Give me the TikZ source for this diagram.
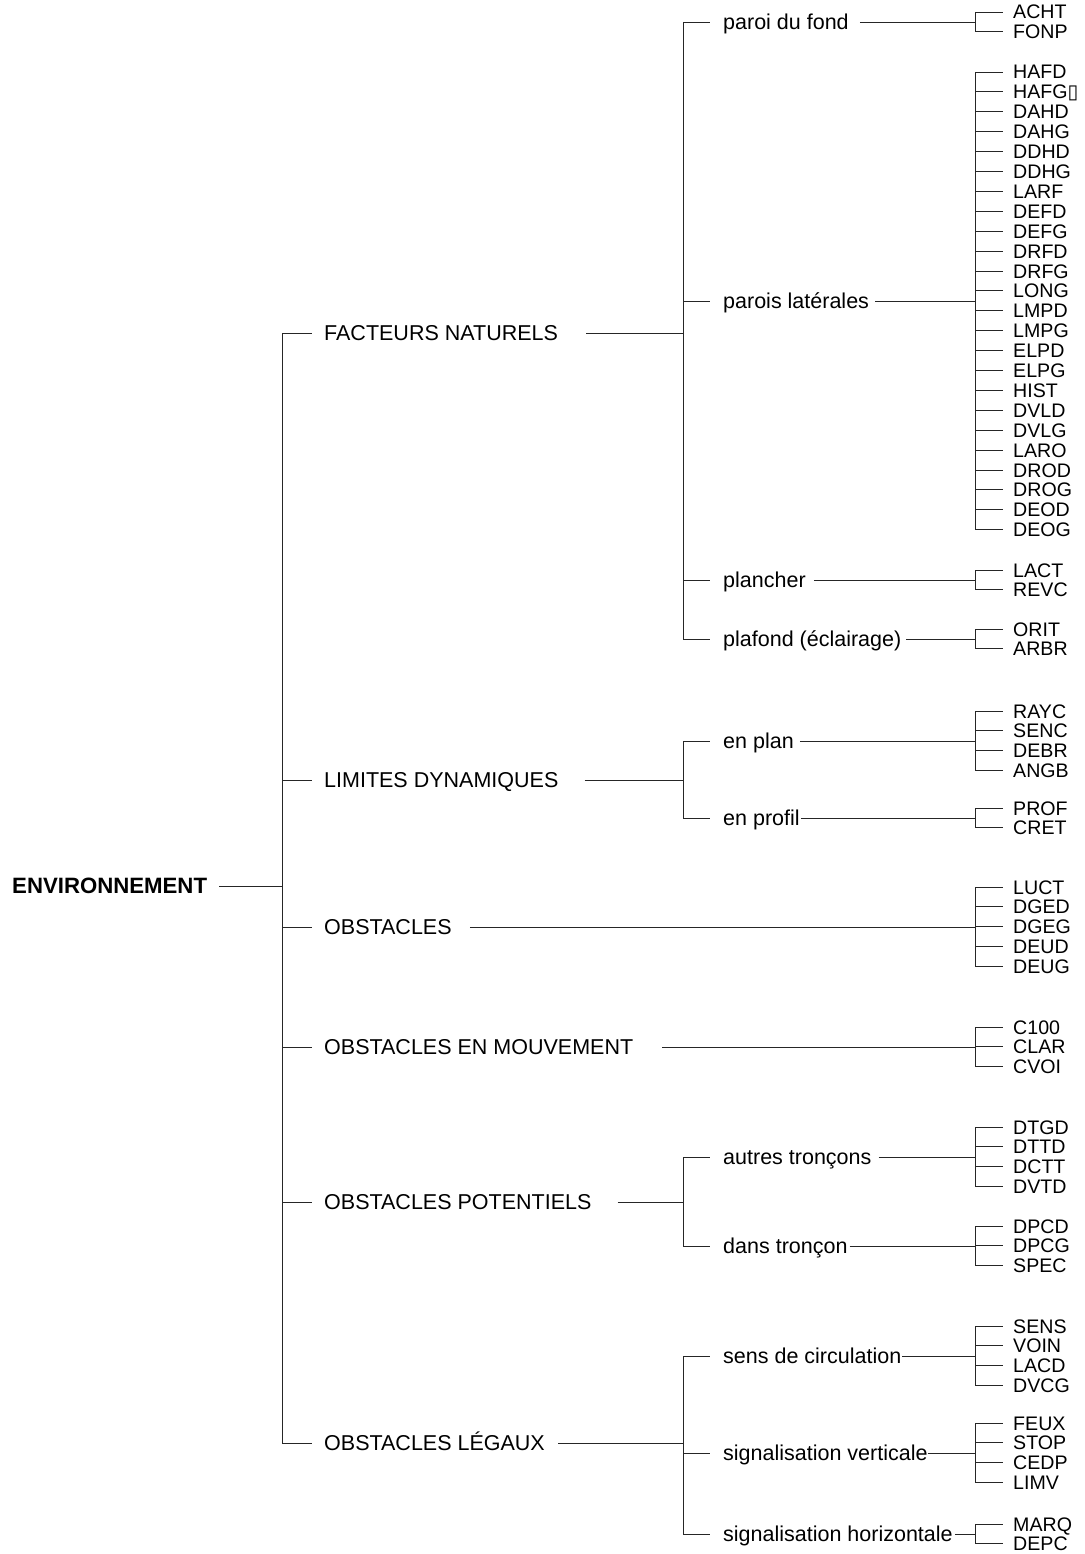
\documentclass[tikz,border=0pt]{standalone}
\usepackage{fontspec}
\setmainfont{Liberation Sans}
\newfontfamily\dejavu{DejaVu Sans}
\newcommand\leafset[4]{% #1 prefix, #2 first y, #3 last index, #4 list
  \foreach \t [count=\i from 0] in {#4} {
    \node[leaf] (#1\i) at (1013,{#2+19.9*\i}) {\t};
    \draw[conn] (br3 |- #1\i.west) -- ([xshift=-10pt]#1\i.west);
  }
  \draw[conn] (br3 |- #10.west) -- (br3 |- #1#3.west);
}
\begin{document}
\begin{tikzpicture}[x=1pt,y=-1pt,
  conn/.style={draw=black!85, line width=0.9pt},
  lvl/.style={font=\fontsize{21.5}{24}\selectfont, anchor=west, inner sep=0pt, text height=15.4pt, text depth=0pt},
  root/.style={font=\bfseries\fontsize{22.2}{24}\selectfont, anchor=west, inner sep=0pt, text height=15.9pt, text depth=0pt},
  leaf/.style={font=\fontsize{19.6}{20}\selectfont, anchor=west, inner sep=0pt, text height=14pt, text depth=0pt}]
\useasboundingbox (0,0) rectangle (1084,1554);
\coordinate (trunk) at (282,0);
\coordinate (br2) at (683,0);
\coordinate (br3) at (975,0);

% root
\node[root] (env) at (12,886) {ENVIRONNEMENT};
\draw[conn] ([xshift=12pt]env.east) -- (trunk |- env.east);

% level 1
\node[lvl] (fn) at (324,333) {FACTEURS NATURELS};
\node[lvl] (ld) at (324,780) {LIMITES DYNAMIQUES};
\node[lvl] (ob) at (324,927) {OBSTACLES};
\node[lvl] (om) at (324,1047) {OBSTACLES EN MOUVEMENT};
\node[lvl] (op) at (324,1202) {OBSTACLES POTENTIELS};
\node[lvl] (ol) at (324,1443) {OBSTACLES LÉGAUX};
\draw[conn] (trunk |- fn.west) -- (trunk |- ol.west);
\foreach \n in {fn,ld,ob,om,op,ol}
  \draw[conn] (trunk |- \n.west) -- ([xshift=-12pt]\n.west);

% level 2
\node[lvl] (pf) at (723,22) {paroi du fond};
\node[lvl] (pl) at (723,301) {parois latérales};
\node[lvl] (pc) at (723,580) {plancher};
\node[lvl] (pd) at (723,639) {plafond (éclairage)};
\node[lvl] (ep) at (723,741) {en plan};
\node[lvl] (epr) at (723,818) {en profil};
\node[lvl] (at) at (723,1157) {autres tronçons};
\node[lvl] (dt) at (723,1246) {dans tronçon};
\node[lvl] (sc) at (723,1356) {sens de circulation};
\node[lvl] (sv) at (723,1453) {signalisation verticale};
\node[lvl] (sh) at (723,1534) {signalisation horizontale};
\foreach \n in {pf,pl,pc,pd,ep,epr,at,dt,sc,sv,sh}
  \draw[conn] (br2 |- \n.west) -- ([xshift=-13pt]\n.west);
\draw[conn] (br2 |- pf.west) -- (br2 |- pd.west);
\draw[conn] (br2 |- ep.west) -- (br2 |- epr.west);
\draw[conn] (br2 |- at.west) -- (br2 |- dt.west);
\draw[conn] (br2 |- sc.west) -- (br2 |- sh.west);

% level 1 -> level 2 / leaves
\draw[conn] ([xshift=28pt]fn.east) -- (br2 |- fn.east);
\draw[conn] ([xshift=26pt]ld.east) -- (br2 |- ld.east);
\draw[conn] ([xshift=18pt]ob.east) -- (br3 |- ob.east);
\draw[conn] ([xshift=29pt]om.east) -- (br3 |- om.east);
\draw[conn] ([xshift=26pt]op.east) -- (br2 |- op.east);
\draw[conn] ([xshift=13pt]ol.east) -- (br2 |- ol.east);

% level 2 -> leaves
\draw[conn] ([xshift=11pt]pf.east) -- (br3 |- pf.east);
\draw[conn] ([xshift=6pt]pl.east) -- (br3 |- pl.east);
\draw[conn] ([xshift=8pt]pc.east) -- (br3 |- pc.east);
\draw[conn] ([xshift=5pt]pd.east) -- (br3 |- pd.east);
\draw[conn] ([xshift=6pt]ep.east) -- (br3 |- ep.east);
\draw[conn] ([xshift=1pt]epr.east) -- (br3 |- epr.east);
\draw[conn] ([xshift=7pt]at.east) -- (br3 |- at.east);
\draw[conn] ([xshift=2pt]dt.east) -- (br3 |- dt.east);
\draw[conn] ([xshift=1pt]sc.east) -- (br3 |- sc.east);
\draw[conn] ([xshift=0pt]sv.east) -- (br3 |- sv.east);
\draw[conn] ([xshift=2pt]sh.east) -- (br3 |- sh.east);

% leaves
\leafset{Lpf}{12}{1}{ACHT,FONP}
\leafset{Lpl}{72}{23}{HAFD,HAFG{\dejavu ▯},DAHD,DAHG,DDHD,DDHG,LARF,DEFD,DEFG,DRFD,DRFG,LONG,LMPD,LMPG,ELPD,ELPG,HIST,DVLD,DVLG,LARO,DROD,DROG,DEOD,DEOG}
\leafset{Lpc}{570}{1}{LACT,REVC}
\leafset{Lpd}{629}{1}{ORIT,ARBR}
\leafset{Lep}{711}{3}{RAYC,SENC,DEBR,ANGB}
\leafset{Lepr}{808}{1}{PROF,CRET}
\leafset{Lob}{887}{4}{LUCT,DGED,DGEG,DEUD,DEUG}
\leafset{Lom}{1027}{2}{C100,CLAR,CVOI}
\leafset{Lat}{1127}{3}{DTGD,DTTD,DCTT,DVTD}
\leafset{Ldt}{1226}{2}{DPCD,DPCG,SPEC}
\leafset{Lsc}{1326}{3}{SENS,VOIN,LACD,DVCG}
\leafset{Lsv}{1423}{3}{FEUX,STOP,CEDP,LIMV}
\leafset{Lsh}{1524}{1}{MARQ,DEPC}
\end{tikzpicture}
\end{document}
